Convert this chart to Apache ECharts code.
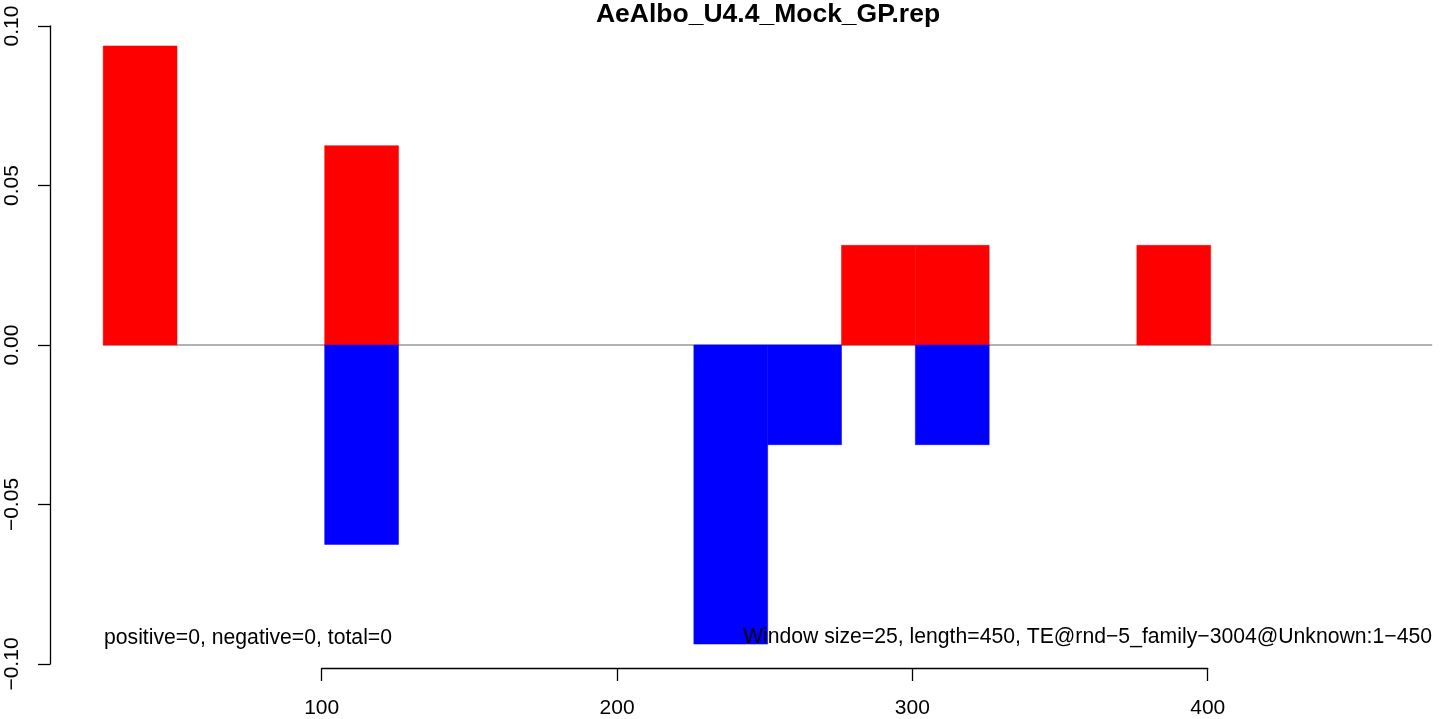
<!DOCTYPE html>
<html><head><meta charset="utf-8">
<script src="https://cdn.jsdelivr.net/npm/echarts@6/dist/echarts.min.js"></script>
<style>html,body{margin:0;padding:0;background:#fff}#c{width:1444px;height:719px}</style>
</head><body><div id="c"></div>
<script>
// ---- data ----
const windowStarts = [26, 101, 226, 251, 276, 301, 376];
const windowSize = 25;
const positiveValues = [0.09375, 0.0625, 0, 0, 0.03125, 0.03125, 0.03125];
const negativeValues = [0, -0.0625, -0.09375, -0.03125, 0, -0.03125, 0];
const yTicks = [-0.10, -0.05, 0.00, 0.05, 0.10];
const xTicks = [100, 200, 300, 400];
const baselineRange = [26, 476];
const titleText = 'AeAlbo_U4.4_Mock_GP.rep';
const leftNote = 'positive=0, negative=0, total=0';
const rightNote = 'Window size=25, length=450, TE@rnd\u22125_family\u22123004@Unknown:1\u2212450';

// ---- layout ----
const W = 1444, H = 719;
const FONT = "'Liberation Sans', Arial, Helvetica, sans-serif";
const gridLeft = 50, gridRight = 0, gridTop = 26, gridBottom = 55;
const xMin = 8, xMax = 480;
const pxPerUnit = (W - gridLeft - gridRight) / (xMax - xMin);
const axisLeft = gridLeft + (xTicks[0] - xMin) * pxPerUnit;
const axisRight = W - (gridLeft + (xTicks[xTicks.length - 1] - xMin) * pxPerUnit);

const posData = [], negData = [];
windowStarts.forEach((s, i) => {
  if (positiveValues[i] !== 0) posData.push([s, s + windowSize, positiveValues[i]]);
  if (negativeValues[i] !== 0) negData.push([s, s + windowSize, negativeValues[i]]);
});

function makeRender(color) {
  return function (params, api) {
    const p0 = api.coord([api.value(0), 0]);
    const p1 = api.coord([api.value(1), api.value(2)]);
    return {
      type: 'rect',
      shape: { x: p0[0], y: Math.min(p0[1], p1[1]), width: p1[0] - p0[0], height: Math.abs(p1[1] - p0[1]) },
      style: { fill: color, stroke: color, lineWidth: 0.5 }
    };
  };
}

const chart = echarts.init(document.getElementById('c'), null, { renderer: 'canvas' });
chart.setOption({
  animation: false,
  backgroundColor: '#fff',
  textStyle: { fontFamily: FONT },
  grid: [
    { left: gridLeft, right: gridRight, top: gridTop, bottom: gridBottom },
    { left: axisLeft, right: axisRight, top: H - 52, bottom: 51 }
  ],
  xAxis: [
    { type: 'value', gridIndex: 0, min: xMin, max: xMax, show: false },
    {
      type: 'value', gridIndex: 1, min: xTicks[0], max: xTicks[xTicks.length - 1], interval: 100,
      position: 'bottom',
      axisLine: { show: true, lineStyle: { color: '#000', width: 1.3 } },
      axisTick: { show: true, length: 13, lineStyle: { color: '#000', width: 1.3 } },
      axisLabel: { fontSize: 21, color: '#000', margin: 30, fontFamily: FONT },
      splitLine: { show: false }
    }
  ],
  yAxis: [
    {
      type: 'value', gridIndex: 0, min: yTicks[0], max: yTicks[yTicks.length - 1], interval: 0.05,
      axisLine: { show: true, lineStyle: { color: '#000', width: 1.3 } },
      axisTick: { show: true, length: 12, lineStyle: { color: '#000', width: 1.3 } },
      axisLabel: {
        fontSize: 21, color: '#000', rotate: 90, margin: 27, fontFamily: FONT,
        formatter: v => v.toFixed(2).replace('-', '\u2212')
      },
      splitLine: { show: false }
    },
    { type: 'value', gridIndex: 1, min: 0, max: 1, show: false }
  ],
  series: [
    {
      type: 'line', xAxisIndex: 0, yAxisIndex: 0, silent: true, symbol: 'none', z: 1,
      data: [[baselineRange[0], 0], [baselineRange[1], 0]],
      lineStyle: { color: '#999', width: 1.3 }
    },
    {
      type: 'custom', xAxisIndex: 0, yAxisIndex: 0, z: 2,
      renderItem: makeRender('#ff0000'), encode: { x: [0, 1], y: 2 }, data: posData
    },
    {
      type: 'custom', xAxisIndex: 0, yAxisIndex: 0, z: 2,
      renderItem: makeRender('#0000ff'), encode: { x: [0, 1], y: 2 }, data: negData
    }
  ],
  graphic: [
    { type: 'text', x: 768, y: 15, z: 100, style: { text: titleText, font: 'bold 26.5px ' + FONT, fill: '#000', textAlign: 'center', textVerticalAlign: 'middle' } },
    { type: 'text', x: 104, y: 638, z: 100, style: { text: leftNote, font: '21.2px ' + FONT, fill: '#000', textAlign: 'left', textVerticalAlign: 'middle' } },
    { type: 'text', x: 1432, y: 637, z: 100, style: { text: rightNote, font: '21.2px ' + FONT, fill: '#000', textAlign: 'right', textVerticalAlign: 'middle' } }
  ]
});
</script></body></html>
